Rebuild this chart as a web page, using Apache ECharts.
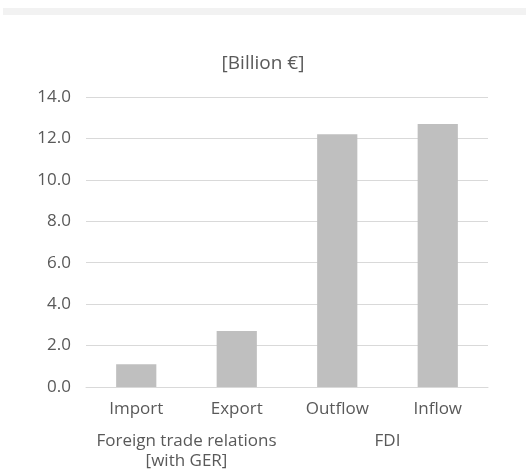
<!DOCTYPE html>
<html>
<head>
<meta charset="utf-8">
<script src="https://cdn.jsdelivr.net/npm/echarts@6/dist/echarts.min.js"></script>
<style>
  html, body { margin: 0; padding: 0; background: #fff; }
  #chart { width: 526px; height: 471px; }
</style>
</head>
<body>
<div id="chart"></div>
<script>
// 数据
var categories = ["Import", "Export", "Outflow", "Inflow"];
var groups = ["Foreign trade relations\n[with GER]", "FDI"];
var values = [1.1, 2.7, 12.2, 12.7];
var yTicks = { min: 0, max: 14, interval: 2 };

var myChart = echarts.init(document.getElementById("chart"));
var textColor = "#595959";
var font = "Open Sans";

var option = {
  backgroundColor: "#fff",
  animation: false,
  // 顶部浅灰条
  graphic: [{
    type: "rect",
    shape: { x: 3, y: 8, width: 523, height: 7 },
    style: { fill: "#f2f2f2" }
  }],
  title: {
    text: "[Billion €]",
    left: "center",
    top: 49,
    textStyle: { color: textColor, fontSize: 19, fontWeight: "normal", fontFamily: font }
  },
  grid: { left: 86, right: 38, top: 97, bottom: 75 },
  xAxis: [
    {
      type: "category",
      data: categories,
      axisTick: { show: false },
      axisLine: { lineStyle: { color: "#d9d9d9", width: 1 } },
      axisLabel: { color: textColor, fontSize: 17, fontFamily: font, margin: 14, interval: 0 }
    },
    {
      type: "category",
      data: groups,
      position: "bottom",
      offset: 36,
      axisTick: { show: false },
      axisLine: { show: false },
      axisLabel: { color: textColor, fontSize: 17, fontFamily: font, lineHeight: 20, interval: 0, hideOverlap: false }
    }
  ],
  yAxis: {
    type: "value",
    min: yTicks.min,
    max: yTicks.max,
    interval: yTicks.interval,
    axisLine: { show: false },
    axisTick: { show: false },
    splitLine: { lineStyle: { color: "#d9d9d9", width: 1 } },
    axisLabel: {
      color: textColor, fontSize: 17, fontFamily: font, margin: 15,
      formatter: function (v) { return v.toFixed(1); }
    }
  },
  series: [{
    type: "bar",
    data: values,
    xAxisIndex: 0,
    barWidth: "40%",
    itemStyle: { color: "#bfbfbf" }
  }]
};

myChart.setOption(option);
</script>
</body>
</html>
